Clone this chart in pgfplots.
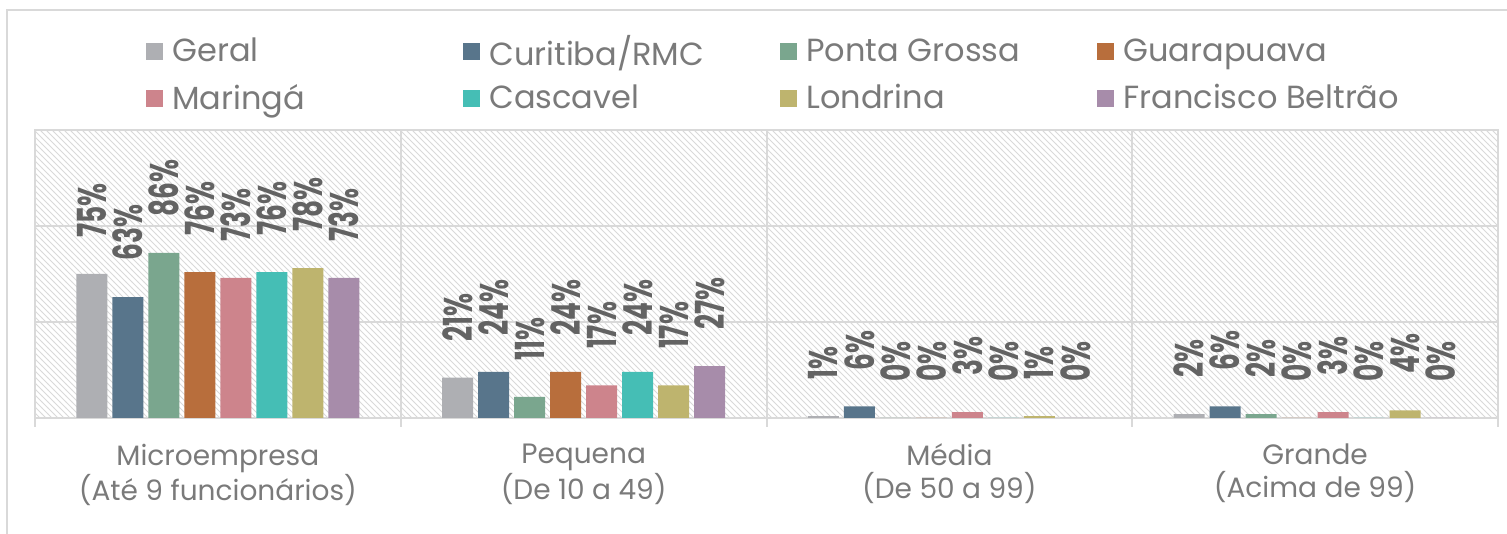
\documentclass[border=0pt]{standalone}
\usepackage{pgfplots}
\pgfplotsset{compat=1.18}
\usepackage{graphicx}
\usepackage{fontspec}
\setmainfont{Poppins}
\usetikzlibrary{patterns}
\definecolor{cGeral}{HTML}{AEAFB3}
\definecolor{cCur}{HTML}{58758B}
\definecolor{cPG}{HTML}{7AA68E}
\definecolor{cGua}{HTML}{B86E3C}
\definecolor{cMar}{HTML}{CD848C}
\definecolor{cCas}{HTML}{45BEB5}
\definecolor{cLon}{HTML}{BEB46E}
\definecolor{cFB}{HTML}{A78CAA}
\definecolor{txt}{HTML}{7A7A7A}
\definecolor{lbl}{HTML}{636363}
\definecolor{grd}{HTML}{D9D9D9}
\begin{document}
\begin{tikzpicture}
\begin{axis}[
  at={(17.5pt,58pt)}, anchor=south west,
  scale only axis, width=731.5pt, height=144pt,
  ybar=2.5pt, bar width=15.5pt,
  xmin=-0.5, xmax=3.5, ymin=0, ymax=150,
  xtick={0,1,2,3},
  xticklabels={{Microempresa\\(Até 9 funcionários)},{Pequena\\(De 10 a 49)},{Média\\(De 50 a 99)},{Grande\\(Acima de 99)}},
  minor xtick={-0.5,0.5,1.5,2.5,3.5},
  ytick={0,50,100,150}, yticklabels={},
  ymajorgrids, xminorgrids,
  major grid style={draw=grd, line width=1pt},
  minor grid style={draw=grd, line width=1pt},
  axis line style={draw=grd, line width=1pt},
  x tick style={draw=grd, line width=1pt},
  y tick style={draw=none},
  major tick length=0pt, minor tick length=4.5pt,
  tick align=outside, xtick pos=bottom, ytick pos=left,
  axis background/.style={pattern=north west lines, pattern color=gray!30},
  xticklabel style={align=center, font=\fontsize{14}{16.5}\selectfont, text=txt, yshift=-9.5pt},
  /pgf/number format/assume math mode=true,
  nodes near coords={\hspace*{3pt}\scalebox{0.66}[1]{\pgfmathprintnumber{\pgfplotspointmeta}\%}},
  nodes near coords style={yshift=3pt, rotate=90, anchor=west, font=\fontsize{20}{22}\selectfont\bfseries, text=lbl, inner xsep=12pt, inner ysep=0pt},
  legend columns=4,
  legend style={at={(axis description cs:0.0759,1.196)}, anchor=west, draw=none, fill=none, inner sep=0pt,
    font=\fontsize{16}{20}\selectfont, text=txt, nodes={inner sep=0pt}, row sep=8pt,
    /tikz/every odd column/.append style={column sep=4.5pt}},
  legend image code/.code={\fill[#1] (0pt,-4.25pt) rectangle (8.5pt,4.25pt);},
]
\addplot[fill=cGeral, draw=none] coordinates {(0,75) (1,21) (2,1) (3,2)};
\addlegendentry{\makebox[145.5pt][l]{Geral}}
\addplot[fill=cCur, draw=none] coordinates {(0,63) (1,24) (2,6) (3,6)};
\addlegendentry{\makebox[145.5pt][l]{Curitiba/RMC}}
\addplot[fill=cPG, draw=none] coordinates {(0,86) (1,11) (2,0) (3,2)};
\addlegendentry{\makebox[145.5pt][l]{Ponta Grossa}}
\addplot[fill=cGua, draw=none] coordinates {(0,76) (1,24) (2,0) (3,0)};
\addlegendentry{\makebox[145.5pt][l]{Guarapuava}}
\addplot[fill=cMar, draw=none] coordinates {(0,73) (1,17) (2,3) (3,3)};
\addlegendentry{\makebox[145.5pt][l]{Maringá}}
\addplot[fill=cCas, draw=none] coordinates {(0,76) (1,24) (2,0) (3,0)};
\addlegendentry{\makebox[145.5pt][l]{Cascavel}}
\addplot[fill=cLon, draw=none] coordinates {(0,78) (1,17) (2,1) (3,4)};
\addlegendentry{\makebox[145.5pt][l]{Londrina}}
\addplot[fill=cFB, draw=none] coordinates {(0,73) (1,27) (2,0) (3,0)};
\addlegendentry{\makebox[145.5pt][l]{Francisco Beltrão}}
\end{axis}
\draw[grd, line width=1pt] (3.5pt,0) -- (3.5pt,261.75pt) -- (760pt,261.75pt);
\pgfresetboundingbox
\path[use as bounding box] (0,0) rectangle (753.5pt,267pt);
\end{tikzpicture}
\end{document}
